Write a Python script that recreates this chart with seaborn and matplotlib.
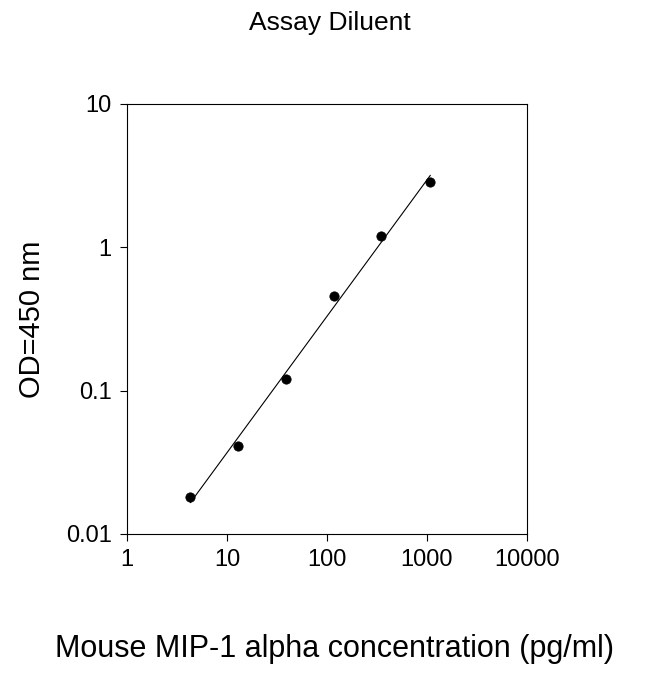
import numpy as np
import matplotlib
matplotlib.use("Agg")
import matplotlib.pyplot as plt
import seaborn as sns

conc = [4.3, 12.8, 39, 118, 350, 1080]
od = [0.018, 0.041, 0.12, 0.46, 1.2, 2.85]
xticks = [1, 10, 100, 1000, 10000]
xlabels = ["1", "10", "100", "1000", "10000"]
yticks = [0.01, 0.1, 1, 10]
ylabels = ["0.01", "0.1", "1", "10"]

sns.set_style("ticks")
plt.rcParams['font.family'] = ['Liberation Sans', 'DejaVu Sans']
plt.rcParams['text.color'] = 'black'
plt.rcParams['xtick.color'] = 'black'
plt.rcParams['ytick.color'] = 'black'
plt.rcParams['axes.labelcolor'] = 'black'
fig = plt.figure(figsize=(6.5, 6.74), dpi=100)
ax = fig.add_axes([127/650, 1-534/674, 400/650, 430/674])

lx, ly = np.log10(conc), np.log10(od)
b, a = np.polyfit(lx, ly, 1)
fx = np.array([lx[0], lx[-1]])
sns.lineplot(x=10**fx, y=10**(a+b*fx), ax=ax, color="black", lw=0.8)
sns.scatterplot(x=conc, y=od, ax=ax, color="black", s=45, edgecolor="black", zorder=3)
ax.set_xscale("log"); ax.set_yscale("log")
ax.set_xlim(1, 10000); ax.set_ylim(0.01, 10)
ax.set_xticks(xticks, xlabels, fontsize=17)
ax.set_yticks(yticks, ylabels, fontsize=17)
ax.minorticks_off()
ax.tick_params(direction="out", length=5, width=0.8, pad=6)
for s in ax.spines.values():
    s.set_visible(True); s.set_linewidth(0.8); s.set_color("black")
ax.set_ylabel("OD=450 nm", fontsize=21, labelpad=14)
fig.text(0.515, 0.025, "Mouse MIP-1 alpha concentration (pg/ml)", ha="center", fontsize=22)
fig.text(0.508, 0.955, "Assay Diluent", ha="center", fontsize=19)
fig.savefig("out.png", dpi=100)
